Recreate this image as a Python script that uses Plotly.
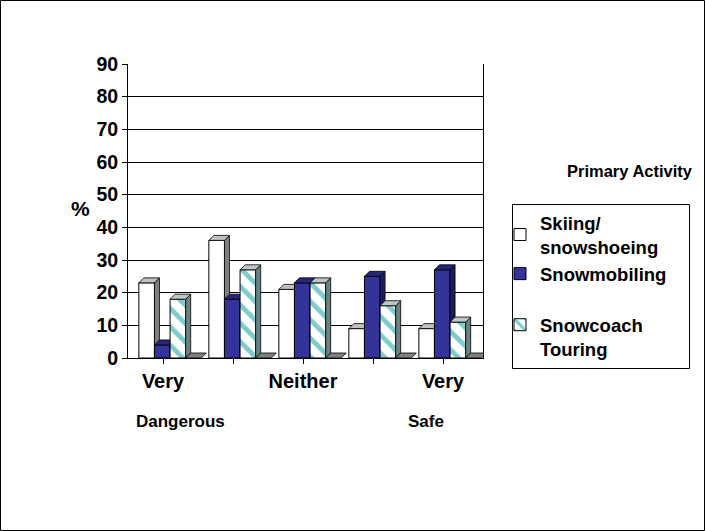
import plotly.graph_objects as go

categories = ["Very Dangerous", "Dangerous", "Neither", "Safe", "Very Safe"]
tick_labels = ["Very", "", "Neither", "", "Very"]
skiing = [23, 36, 21, 9, 9]
snowmobiling = [4, 18, 23, 25, 27]
snowcoach = [18, 27, 23, 16, 11]
other = [0, 0, 0, 0, 0]
y_ticks = [0, 10, 20, 30, 40, 50, 60, 70, 80, 90]

W, H = 705, 531
L, R, T, B = 128, 222, 64, 173
pw, ph = W - L - R, H - T - B
FONT = "Liberation Sans, Arial, sans-serif"

CAT_PX = 70.0
DEPTH_PX = 5.0
x = list(range(len(categories)))
BW = 0.223          # bar width in category units
START = -0.345      # left edge of first bar relative to category centre
DX = DEPTH_PX / CAT_PX          # 3-D depth, x (data units)
DY = DEPTH_PX / (ph / 90.0)     # 3-D depth, y (data units)

series = [
    dict(name="Skiing/<br>snowshoeing", y=skiing, front="white", side="#7f7f7f", top="#c0c0c0",
         pattern=None, legend=True),
    dict(name="Snowmobiling", y=snowmobiling, front="#333399", side="#1c1c5e", top="#26267a",
         pattern=None, legend=True),
    dict(name="<br>Snowcoach<br>Touring", y=snowcoach, front="white", side="#6a8484", top="#bcc8c8",
         pattern=dict(shape="\\", fgcolor="#009999", bgcolor="white", size=13, solidity=0.38),
         legend=True),
    dict(name="Other", y=other, front="#808080", side="#606060", top="#808080",
         pattern=None, legend=False),
]


def faces(vals, off):
    sx, sy, tx, ty = [], [], [], []
    for c, v in zip(x, vals):
        x0 = c + off
        x1 = x0 + BW
        sx += [x1, x1 + DX, x1 + DX, x1, x1, None]
        sy += [0, DY, v + DY, v, 0, None]
        tx += [x0, x0 + DX, x1 + DX, x1, x0, None]
        ty += [v, v + DY, v + DY, v, v, None]
    return sx, sy, tx, ty


fig = go.Figure()
axis_n = 1
for i, s in enumerate(series):
    off = START + i * BW
    yfront = "y" if axis_n == 1 else f"y{axis_n}"
    yface = f"y{axis_n + 1}"
    axis_n += 2
    marker = dict(color=s["front"], line=dict(color="black", width=1))
    if s["pattern"]:
        marker["pattern"] = s["pattern"]
    has_height = any(v > 0 for v in s["y"])
    if has_height:
        fig.add_bar(x=x, y=s["y"], name=s["name"], width=BW, offset=off, yaxis=yfront,
                    marker=marker, showlegend=s["legend"])
    sx, sy, tx, ty = faces(s["y"], off)
    if has_height:
        fig.add_scatter(x=sx, y=sy, yaxis=yface, mode="lines", fill="toself",
                        fillcolor=s["side"], line=dict(color="black", width=0.8),
                        showlegend=False, hoverinfo="skip")
    fig.add_scatter(x=tx, y=ty, yaxis=yface, mode="lines", fill="toself",
                    fillcolor=s["top"], line=dict(color="black", width=0.8),
                    showlegend=False, hoverinfo="skip")


def px_x(p):
    return (p - L) / pw


def px_y(p):
    return (T + ph - p) / ph


layout = dict(
    width=W, height=H,
    margin=dict(l=L, r=R, t=T, b=B),
    paper_bgcolor="white", plot_bgcolor="white",
    barmode="overlay",
    font=dict(family=FONT, color="black"),
    showlegend=True,
    legend=dict(x=px_x(500), y=px_y(204), xanchor="left", yanchor="top",
                borderwidth=0, bgcolor="rgba(0,0,0,0)",
                font=dict(size=18.5, family=FONT, weight="bold"),
                tracegroupgap=0, itemwidth=30),
    xaxis=dict(range=[-0.5, 4.5 + DX], tickmode="array", tickvals=x, ticktext=tick_labels,
               tickson="boundaries", ticks="outside", ticklen=5, tickcolor="black",
               showline=True, linecolor="black", linewidth=1,
               showgrid=False, tickfont=dict(size=20, family=FONT, weight="bold"),
               zeroline=False),
    yaxis=dict(range=[0, 90], tickvals=y_ticks, ticks="outside", ticklen=5,
               tickcolor="black", showline=True, linecolor="black", linewidth=1,
               mirror=True, showgrid=True, gridcolor="black", gridwidth=1,
               tickfont=dict(size=19.5, family=FONT, weight="bold"), zeroline=False),
)
for n in range(2, axis_n):
    layout[f"yaxis{n}"] = dict(overlaying="y", range=[0, 90], visible=False,
                               showgrid=False, zeroline=False)
fig.update_layout(**layout)

ann = dict(xref="paper", yref="paper", showarrow=False, xanchor="center", yanchor="middle")
fig.add_annotation(x=px_x(80), y=px_y(208), text="%",
                   font=dict(size=21, family=FONT, weight="bold"), **ann)
fig.add_annotation(x=px_x(180), y=px_y(421), text="Dangerous",
                   font=dict(size=17, family=FONT, weight="bold"), **ann)
fig.add_annotation(x=px_x(426), y=px_y(421), text="Safe",
                   font=dict(size=17, family=FONT, weight="bold"), **ann)
fig.add_annotation(x=px_x(630), y=px_y(171), text="Primary Activity",
                   font=dict(size=16.5, family=FONT, weight="bold"), **ann)

# legend frame
fig.add_shape(type="rect", xref="paper", yref="paper",
              x0=px_x(512.5), x1=px_x(689.5), y0=px_y(368.5), y1=px_y(204.5),
              line=dict(color="black", width=1), fillcolor="rgba(0,0,0,0)")
# chart frame
fig.add_shape(type="rect", xref="paper", yref="paper",
              x0=px_x(0.5), x1=px_x(W - 0.5), y0=px_y(H - 0.5), y1=px_y(0.5),
              line=dict(color="black", width=1), fillcolor="rgba(0,0,0,0)", layer="below")

fig.write_html("out.html", config={"displayModeBar": False},
               post_script="document.body.style.margin='0';document.body.style.overflow='hidden';")
